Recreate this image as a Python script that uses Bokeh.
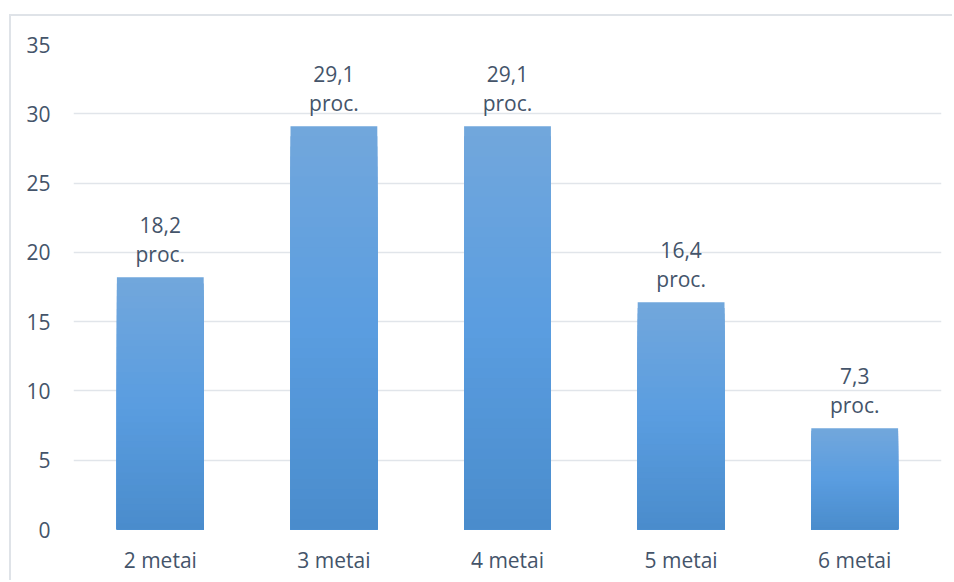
from bokeh.plotting import figure
from bokeh.models import Range1d, FactorRange, ColumnDataSource, FixedTicker
from bokeh.core.properties import value
from bokeh.embed import file_html
from bokeh.resources import INLINE

categories = ["2 metai", "3 metai", "4 metai", "5 metai", "6 metai"]
values = [18.2, 29.1, 29.1, 16.4, 7.3]
value_labels = ["18,2", "29,1", "29,1", "16,4", "7,3"]
unit_label = "proc."
y_ticks = [0, 5, 10, 15, 20, 25, 30, 35]

TEXT = "#44546a"
GRID = "#e1e5ea"
FONT = "Open Sans"
FS = "21px"

stops = [(0.0, (0x4a, 0x8c, 0xcc)), (0.5, (0x5a, 0x9d, 0xe0)), (1.0, (0x72, 0xa7, 0xdc))]

def grad(t):
    for (t0, c0), (t1, c1) in zip(stops[:-1], stops[1:]):
        if t0 <= t <= t1:
            f = (t - t0) / (t1 - t0)
            return "#%02x%02x%02x" % tuple(int(round(a + (b - a) * f)) for a, b in zip(c0, c1))
    return "#%02x%02x%02x" % stops[-1][1]

# gradient: nested bars from 0, tallest first, so no seams between slices
N = 40
sx, st, sc = [], [], []
for k in range(N - 1, -1, -1):
    for cat, v in zip(categories, values):
        sx.append(cat)
        st.append(v * (k + 1) / N)
        sc.append(grad((k + 0.5) / N))
slices = ColumnDataSource(dict(x=sx, top=st, color=sc))

p = figure(x_range=FactorRange(*categories, range_padding=0),
           y_range=Range1d(0, 35),
           width=943, height=566,
           output_backend="svg", toolbar_location=None,
           min_border_left=62, min_border_right=13,
           min_border_top=28, min_border_bottom=53)
p.styles = {"margin-left": "9px", "margin-top": "14px",
            "border-left": "2px solid #dfe3e8", "border-top": "2px solid #dfe3e8"}

p.vbar(x="x", bottom=0, top="top", width=0.5, fill_color="color",
       line_color=None, source=slices)

labels = ColumnDataSource(dict(x=categories, y=values, v=value_labels,
                               u=[unit_label] * len(categories)))
p.text(x="x", y="y", text="v", source=labels, text_align="center",
       text_baseline="middle", y_offset=-52, text_font=value(FONT),
       text_font_size=FS, text_color=TEXT)
p.text(x="x", y="y", text="u", source=labels, text_align="center",
       text_baseline="middle", y_offset=-23, text_font=value(FONT),
       text_font_size=FS, text_color=TEXT)

p.outline_line_color = None
p.background_fill_color = "white"
p.border_fill_color = "white"
p.xgrid.grid_line_color = None
p.ygrid.grid_line_color = GRID
p.ygrid.grid_line_width = 1.5
p.yaxis.ticker = FixedTicker(ticks=y_ticks)
p.yaxis.axis_line_color = None
p.yaxis.major_tick_line_color = None
p.yaxis.minor_tick_line_color = None
p.yaxis.major_label_standoff = 17
p.yaxis.major_label_text_font = FONT
p.yaxis.major_label_text_font_size = FS
p.yaxis.major_label_text_color = TEXT

p.xaxis.axis_line_color = None
p.xaxis.major_tick_line_color = None
p.xaxis.minor_tick_line_color = None
p.xaxis.major_label_standoff = 10
p.xaxis.major_label_text_font = FONT
p.xaxis.major_label_text_font_size = FS
p.xaxis.major_label_text_color = TEXT

open("out.html", "w").write(file_html(p, INLINE))
